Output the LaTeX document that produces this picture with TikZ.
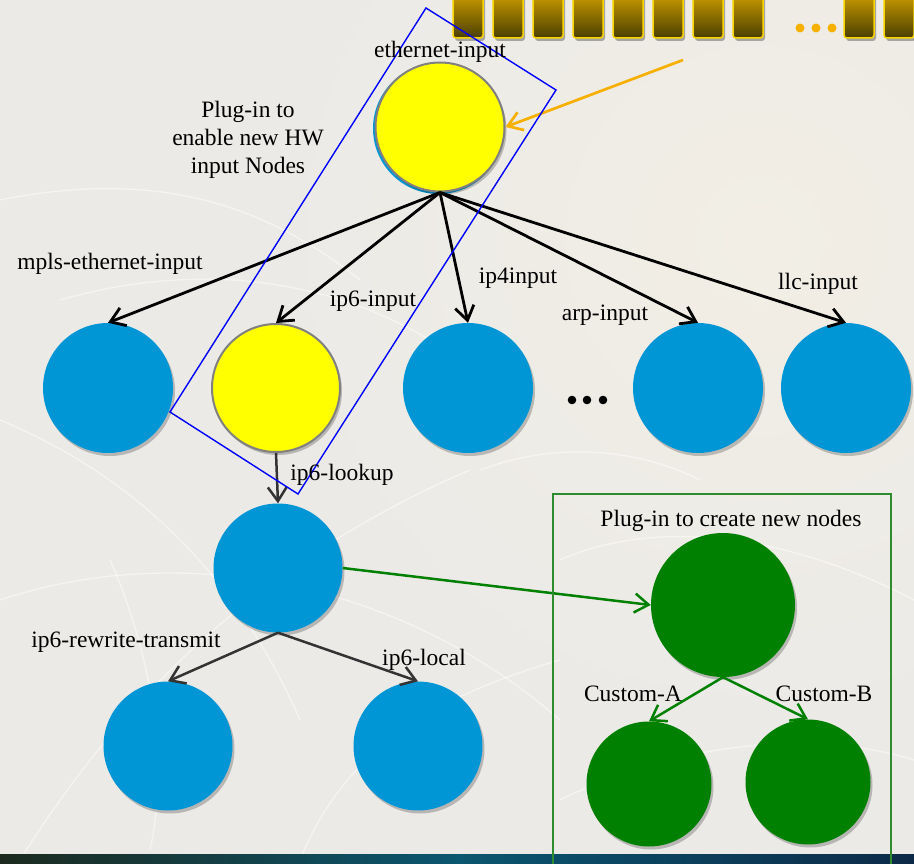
\documentclass[tikz,border=0pt]{standalone}
\usepackage{fontspec}
\setmainfont{Liberation Serif}
\usetikzlibrary{arrows.meta,shadows,calc}

\definecolor{nodeblue}{HTML}{0096D6}
\definecolor{nodegreen}{HTML}{008000}
\definecolor{hwyellow}{HTML}{FFFF00}
\definecolor{bgpaper}{HTML}{EBEAE7}
\definecolor{warmtint}{HTML}{F2EEE5}
\definecolor{plugblue}{HTML}{0000FF}
\definecolor{pluggreen}{HTML}{2E8B2E}
\definecolor{feedorange}{HTML}{F5B000}
\definecolor{edgegray}{HTML}{333333}
\definecolor{slottop}{HTML}{D0A000}
\definecolor{slotbottom}{HTML}{4A3F00}
\definecolor{slotrim}{HTML}{F8D400}
\definecolor{bandleft}{HTML}{1C2A1E}
\definecolor{bandmid}{HTML}{0B5670}
\definecolor{bandright}{HTML}{0C2A48}

\tikzset{
  softshadow/.style={drop shadow={shadow xshift=2pt, shadow yshift=-3pt, opacity=0.22, fill=black}},
  graphnode/.style={circle, inner sep=0pt, minimum size=130pt, softshadow},
  bluenode/.style={graphnode, fill=nodeblue},
  hwnode/.style={graphnode, fill=hwyellow, draw=gray, line width=2pt},
  greennode/.style={graphnode, fill=nodegreen},
  hwslot/.style={rectangle, rounded corners=3pt, minimum width=30pt, minimum height=46pt,
    draw=slotrim, line width=1.5pt, top color=slottop, bottom color=slotbottom, inner sep=0pt,
    drop shadow={shadow xshift=2pt, shadow yshift=-3pt, opacity=0.3, fill=black}},
  lbl/.style={inner sep=0pt, font=\fontsize{23.5}{28}\selectfont, text=black},
  barb/.style={-{Straight Barb[length=14pt,width=19pt]}},
  flow/.style={draw=black, line width=2.8pt, barb},
  subflow/.style={draw=edgegray, line width=2.5pt, barb},
  greenflow/.style={draw=nodegreen, line width=2.5pt, barb},
  feedflow/.style={draw=feedorange, line width=2.7pt, barb},
  streak/.style={draw=white, opacity=0.5, line width=1.3pt},
}

\begin{document}
\begin{tikzpicture}[x=1pt,y=-1pt]
\useasboundingbox (0,0) rectangle (914,864);
\clip (0,0) rectangle (914,864);

% paper background with faint light streaks
\fill[bgpaper] (0,0) rectangle (914,864);
\shade[inner color=warmtint, outer color=bgpaper] (760,240) circle (520);
\draw[streak] (0,600) .. controls (180,540) and (400,580) .. (560,720);
\draw[streak] (20,860) .. controls (120,700) and (260,560) .. (470,470);
\draw[streak] (0,420) .. controls (120,470) and (230,560) .. (300,720);
\draw[streak] (60,300) .. controls (200,260) and (330,280) .. (430,340);
\draw[streak] (0,200) .. controls (150,170) and (260,200) .. (360,280);
\draw[streak] (300,860) .. controls (340,760) and (420,700) .. (560,660);
\draw[streak] (150,850) .. controls (170,760) and (150,650) .. (110,560);
\draw[streak] (560,560) .. controls (650,520) and (780,530) .. (914,600);
\draw[streak] (560,800) .. controls (680,740) and (820,730) .. (914,760);
\draw[streak] (480,470) .. controls (560,440) and (640,450) .. (700,480);

% dark band along the lower edge
\shade[left color=bandleft, right color=bandright, middle color=bandmid] (0,854) rectangle (914,870);

% row of hardware input slots
\foreach \x [count=\i] in {468,508,548,588,628,668,708,748,859,899}
  \node[hwslot] (slot\i) at (\x,15) {};
\foreach \x in {800,816,832}
  \fill[feedorange] (\x,28) circle (4.5);

% graph nodes
\fill[nodeblue] (438.5,128.5) circle (65.5);
\node[hwnode, minimum size=129pt] (eth) at (440,127) {};

\node[bluenode] (mpls)  at (108,388) {};
\node[hwnode, minimum size=128pt] (ip6in) at (276,388) {};
\node[bluenode] (ip4)   at (468,388) {};
\node[bluenode] (arp)   at (698,388) {};
\node[bluenode] (llc)   at (846,388) {};

\node[bluenode, minimum size=129pt] (lookup) at (278,568) {};
\node[bluenode, minimum size=129pt] (rw)     at (168,746) {};
\node[bluenode, minimum size=129pt] (local)  at (418,746) {};

\node[greennode, minimum size=144pt] (custom) at (723,605) {};
\node[greennode, minimum size=125pt] (ca) at (649,784) {};
\node[greennode, minimum size=125pt] (cb) at (808,782) {};

% ellipsis between input nodes
\foreach \x in {572,587,603}
  \fill[black] (\x,400) circle (4.3);

% connectors
\draw[flow] (eth.south) -- (mpls.north);
\draw[flow] (eth.south) -- (ip6in.north);
\draw[flow] (eth.south) -- (ip4.north);
\draw[flow] (eth.south) -- (arp.north);
\draw[flow] (eth.south) -- (llc.north);

\draw[subflow] (ip6in.south) -- (lookup.north);
\draw[subflow] (lookup.south) -- (rw.north);
\draw[subflow] (lookup.south) -- (local.north);

\draw[greenflow] (lookup.east) -- (custom.west);
\draw[greenflow] (custom.south) -- (ca.north);
\draw[greenflow] (custom.south) -- (cb.north);

\coordinate (feed) at (683,60);
\draw[feedflow] (feed) -- (eth.east);

% plug-in groupings
\draw[plugblue, line width=1.4pt] (426,8) -- (556,90) -- (298,494) -- (170,412) -- cycle;
\draw[pluggreen, line width=1.3pt] (553,494) rectangle (891,875);

% labels
\node[lbl] (l-eth)    at (440,52)  {ethernet-input};
\node[lbl, align=center] (l-hw) at (248,140) {Plug-in to\\enable new HW\\input Nodes};
\node[lbl] (l-mpls)   at (110,264) {mpls-ethernet-input};
\node[lbl] (l-ip6in)  at (373,301) {ip6-input};
\node[lbl] (l-ip4)    at (518,278) {ip4input};
\node[lbl] (l-arp)    at (605,315) {arp-input};
\node[lbl] (l-llc)    at (818,284) {llc-input};
\node[lbl] (l-lookup) at (342,475) {ip6-lookup};
\node[lbl] (l-rw)     at (126,642) {ip6-rewrite-transmit};
\node[lbl] (l-local)  at (424,660) {ip6-local};
\node[lbl] (l-plug)   at (731,521) {Plug-in to create new nodes};
\node[lbl] (l-ca)     at (633,694) {Custom-A};
\node[lbl] (l-cb)     at (824,694) {Custom-B};
\end{tikzpicture}
\end{document}
